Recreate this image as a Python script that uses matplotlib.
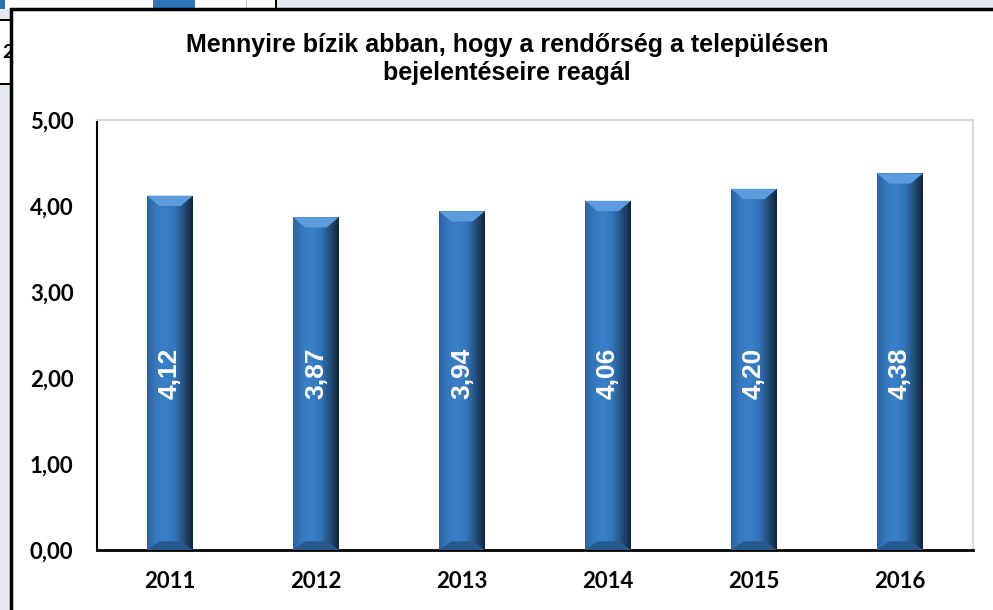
import matplotlib
matplotlib.use("Agg")
import matplotlib.pyplot as plt
import numpy as np
from matplotlib.patches import Rectangle, Polygon
from matplotlib.colors import LinearSegmentedColormap

years = ["2011", "2012", "2013", "2014", "2015", "2016"]
values = [4.12, 3.87, 3.94, 4.06, 4.20, 4.38]
value_labels = ["4,12", "3,87", "3,94", "4,06", "4,20", "4,38"]
yticks = [0, 1, 2, 3, 4, 5]
ytick_labels = ["0,00", "1,00", "2,00", "3,00", "4,00", "5,00"]
title = "Mennyire bízik abban, hogy a rendőrség a településen\nbejelentéseire reagál"

W, H = 993, 610
fig = plt.figure(figsize=(W / 100, H / 100), dpi=100)
fig.patch.set_facecolor("#E4E8EF")


def px_rect(x0, y0, x1, y1, color, z=-8, **kw):
    """Rectangle in pixel coordinates (y from top)."""
    r = Rectangle((x0 / W, 1 - y1 / H), (x1 - x0) / W, (y1 - y0) / H,
                  transform=fig.transFigure, facecolor=color, edgecolor="none",
                  zorder=z, **kw)
    fig.patches.append(r)


# remnants of the chart behind (screenshot background)
px_rect(0, 0, 276, 9, "white")
px_rect(0, 0, 5, 9, "#2F6FB0")
px_rect(153, 0, 195, 9, "#2F73B8")
px_rect(246, 0, 247, 9, "#C8C8C8")
px_rect(275, 0, 277, 9, "black")
px_rect(0, 20, 11, 84, "white")
px_rect(0, 19, 11, 21, "black")
px_rect(0, 83, 11, 85, "black")
fig.text(2 / W, 1 - 52 / H, "2", fontsize=14, fontweight="bold",
         family="Lato", va="center", ha="left", zorder=-7)

# white panel with black border (left/top visible)
panel = Rectangle((11 / W, -0.02), 1.0, (H - 9) / H + 0.02, transform=fig.transFigure,
                  facecolor="white", edgecolor="black", linewidth=2.5, zorder=-5)
fig.patches.append(panel)

ax = fig.add_axes([97 / W, (H - 550) / H, (973 - 97) / W, (550 - 120) / H])
ax.set_zorder(1)
ax.set_facecolor("white")
x = np.arange(len(years))
bw = 0.315
bars = ax.bar(x, values, width=bw, color="#2F73B8", zorder=2)

cmap = LinearSegmentedColormap.from_list(
    "bevel", ["#2A64A0", "#3479C0", "#3A80C8", "#3276BC", "#244F7E", "#10243C"])
grad = np.linspace(0, 1, 256).reshape(1, -1)
for b, v in zip(bars, values):
    x0 = b.get_x()
    x1 = x0 + b.get_width()
    im = ax.imshow(grad, cmap=cmap, aspect="auto", extent=[x0, x1, 0, v],
                   zorder=3, interpolation="bicubic")
    im.set_clip_path(b)
    dx = b.get_width() * 0.27
    dy = 0.12
    top = Polygon([[x0, v], [x1, v], [x1 - dx, v - dy], [x0 + dx, v - dy]],
                  closed=True, facecolor="#5C9BDD", edgecolor="none", zorder=4)
    ax.add_patch(top)
    bot = Polygon([[x0, 0], [x1, 0], [x1 - dx, 0.1], [x0 + dx, 0.1]],
                  closed=True, facecolor="#27598F", edgecolor="none", zorder=4)
    ax.add_patch(bot)

for xi, lab in zip(x, value_labels):
    ax.text(xi, 2.05, lab, rotation=90, ha="center", va="center", color="white",
            fontsize=19, fontweight="bold", family="Liberation Sans", zorder=5)

ax.set_xlim(-0.5, len(years) - 0.5)
ax.set_ylim(0, 5)
ax.set_aspect("auto")
ax.set_yticks(yticks)
ax.set_yticklabels(ytick_labels)
ax.set_xticks(x)
ax.set_xticklabels(years)
for lab in ax.get_yticklabels() + ax.get_xticklabels():
    lab.set_fontweight("bold")
    lab.set_fontsize(16)
    lab.set_family("Lato")
ax.tick_params(axis="y", length=0, pad=17)
ax.tick_params(axis="x", length=0, pad=15)
ax.spines["left"].set_color("black")
ax.spines["left"].set_linewidth(1.5)
ax.spines["bottom"].set_color("black")
ax.spines["bottom"].set_linewidth(2)
ax.spines["top"].set_color("#D9D9D9")
ax.spines["right"].set_color("#D9D9D9")
ax.spines["top"].set_linewidth(1.5)
ax.spines["right"].set_linewidth(1.5)

fig.text(507 / W, 1 - 59 / H, title, ha="center", va="center", fontsize=18,
         fontweight="bold", family="Liberation Sans", linespacing=1.2)

fig.savefig("out.png", dpi=100, facecolor=fig.get_facecolor())
